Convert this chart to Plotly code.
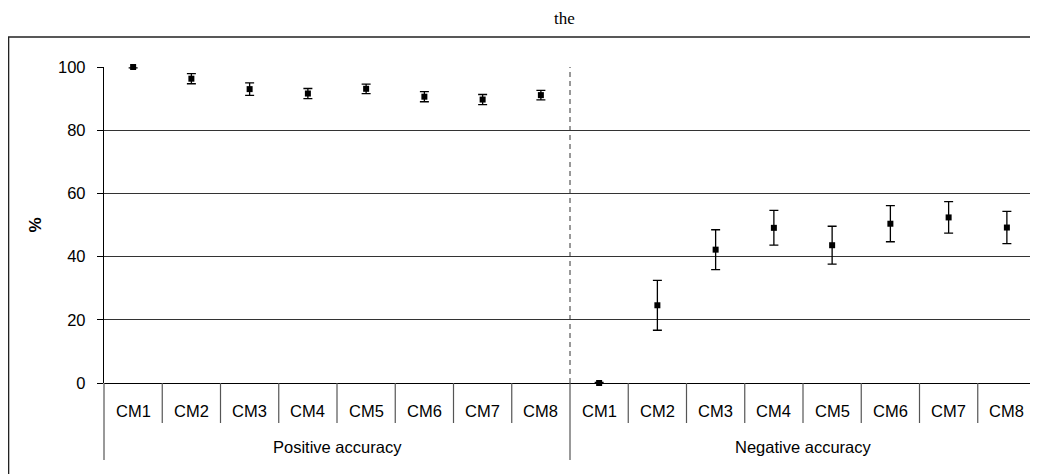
import plotly.graph_objects as go

categories = ["CM1", "CM2", "CM3", "CM4", "CM5", "CM6", "CM7", "CM8"]
groups = ["Positive accuracy", "Negative accuracy"]
pos_vals = [100.0, 96.3, 93.0, 91.6, 93.1, 90.6, 89.7, 91.1]
pos_err = [0.3, 1.6, 2.0, 1.6, 1.5, 1.6, 1.6, 1.5]
neg_vals = [0.0, 24.6, 42.2, 49.1, 43.6, 50.4, 52.4, 49.2]
neg_err = [0.2, 7.9, 6.3, 5.5, 6.0, 5.7, 5.0, 5.1]
y_ticks = [0, 20, 40, 60, 80, 100]

n = len(categories)
total = n * len(groups)
FONT = "Liberation Sans, Arial, sans-serif"

fig = go.Figure()
for g, (vals, errs) in enumerate([(pos_vals, pos_err), (neg_vals, neg_err)]):
    xs = [g * n + i + 0.5 for i in range(n)]
    fig.add_trace(go.Scatter(
        x=xs, y=vals, mode="markers", name=groups[g],
        marker=dict(symbol="square", size=6, color="black"),
        error_y=dict(type="data", array=errs, visible=True,
                     color="black", thickness=1.3, width=4.5),
        cliponaxis=False, showlegend=False,
    ))

shapes = []
# outer chart frame
shapes.append(dict(type="rect", xref="paper", yref="paper",
                   x0=-0.1023, x1=1.01, y0=-0.31, y1=1.095,
                   line=dict(color="#222", width=1.3), layer="below"))
# dashed separator between groups inside the plot
shapes.append(dict(type="line", xref="x", yref="y", x0=n, x1=n, y0=0, y1=100,
                   line=dict(color="#333", width=1, dash="5px,4px")))
# right plot border
shapes.append(dict(type="line", xref="paper", yref="paper", x0=1, x1=1, y0=-0.2437, y1=1,
                   line=dict(color="black", width=1.3)))
# category dividers below the axis
for k in range(total + 1):
    long_line = (k % n == 0)
    shapes.append(dict(type="line", xref="paper", yref="paper",
                       x0=k / total, x1=k / total, y0=0,
                       y1=-0.2437 if long_line else -0.1266,
                       line=dict(color="#555", width=1.2)))

annotations = []
for g in range(len(groups)):
    for i, c in enumerate(categories):
        annotations.append(dict(x=g * n + i + 0.5, xref="x", y=-0.09, yref="paper",
                                text=c, showarrow=False, yanchor="middle",
                                font=dict(family=FONT, size=16.5, color="black")))
    annotations.append(dict(x=g * n + n / 2, xref="x", y=-0.2025, yref="paper",
                            text=groups[g], showarrow=False, yanchor="middle",
                            font=dict(family=FONT, size=16.5, color="black")))
annotations.append(dict(x=0.4946, y=1.1867, xref="paper", yref="paper", text="the",
                        showarrow=False, yanchor="top", borderpad=0,
                        font=dict(family="Liberation Serif, Times New Roman, serif",
                                  size=17, color="black")))
annotations.append(dict(x=-0.0735, y=0.5, xref="paper", yref="paper", text="<b>%</b>",
                        showarrow=False, textangle=-90, xanchor="center", yanchor="middle",
                        font=dict(family=FONT, size=17, color="black")))

fig.update_layout(
    width=1030, height=466,
    margin=dict(l=96, r=2, t=59, b=91),
    paper_bgcolor="white", plot_bgcolor="white",
    shapes=shapes, annotations=annotations,
    xaxis=dict(range=[0, total], showgrid=False, zeroline=False, showticklabels=False,
               ticks="", showline=False, fixedrange=True),
    yaxis=dict(range=[0, 100], tickvals=y_ticks, ticks="outside", ticklen=6,
               tickcolor="black", tickwidth=1, showline=True, linecolor="black",
               linewidth=1.3, showgrid=True, gridcolor="#333", gridwidth=1,
               zeroline=True, zerolinecolor="black", zerolinewidth=1.3,
               tickfont=dict(family=FONT, size=16.5, color="black"), ticklabelstandoff=8,
               mirror=False),
)

fig.write_html("out.html")
